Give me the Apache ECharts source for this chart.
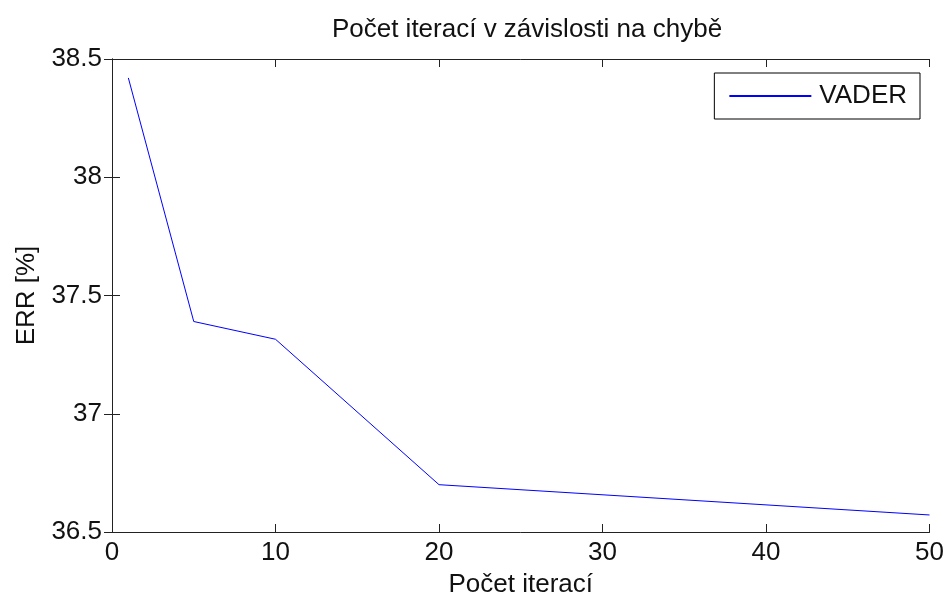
<!DOCTYPE html>
<html>
<head>
<meta charset="utf-8">
<title>Počet iterací v závislosti na chybě</title>
<script src="https://cdn.jsdelivr.net/npm/echarts@6/dist/echarts.min.js"></script>
<style>
    html, body { margin: 0; padding: 0; background: #fff; }
    #chart { width: 947px; height: 603px; }
</style>
</head>
<body>
<div id="chart"></div>
<script>
// data
var iterace = [1, 5, 10, 20, 50];
var err = [38.42, 37.39, 37.315, 36.70, 36.572];
var xTicks = [0, 10, 20, 30, 40, 50];
var yTicks = [36.5, 37, 37.5, 38, 38.5];

var fontName = 'Liberation Sans';
var axisColor = '#222';

function makeData() {
    var out = [];
    for (var i = 0; i < iterace.length; i++) {
        out.push([iterace[i], err[i]]);
    }
    return out;
}

function yLabel(v) {
    // same text as MATLAB: 37 not 37.0
    return String(Math.round(v * 10) / 10);
}

var myChart = echarts.init(document.getElementById('chart'));
var option = {
    backgroundColor: '#fff',
    animation: false,
    title: {
        text: 'Počet iterací v závislosti na chybě',
        left: 522,
        textAlign: 'center',
        top: 12,
        textStyle: { fontFamily: fontName, fontSize: 26, fontWeight: 'normal', color: '#111' }
    },
    legend: {
        right: 27,
        top: 73,
        data: [{ name: 'VADER', icon: 'rect' }],
        itemWidth: 82,
        itemHeight: 2,
        padding: [10, 13, 10, 15],
        borderColor: '#000',
        borderWidth: 1,
        borderRadius: 0,
        textStyle: { fontFamily: fontName, fontSize: 26, color: '#111', padding: [0, 0, 0, 3] }
    },
    grid: { left: 112, right: 15, top: 59, bottom: 68 },
    xAxis: [{
        type: 'value',
        min: xTicks[0],
        max: xTicks[xTicks.length - 1],
        interval: 10,
        name: 'Počet iterací',
        nameLocation: 'middle',
        nameGap: 40,
        nameTextStyle: { fontFamily: fontName, fontSize: 26, color: '#111' },
        axisLine: { show: true, lineStyle: { color: axisColor, width: 1 } },
        axisTick: { show: true, inside: true, length: 8, lineStyle: { color: axisColor } },
        axisLabel: { fontFamily: fontName, fontSize: 26, color: '#111', margin: 8 },
        splitLine: { show: false }
    }, {
        type: 'value',
        position: 'top',
        min: xTicks[0],
        max: xTicks[xTicks.length - 1],
        interval: 10,
        axisLine: { show: true, lineStyle: { color: axisColor, width: 1 } },
        axisTick: { show: true, inside: true, length: 8, lineStyle: { color: axisColor } },
        axisLabel: { show: false },
        splitLine: { show: false }
    }],
    yAxis: [{
        type: 'value',
        min: yTicks[0],
        max: yTicks[yTicks.length - 1],
        interval: 0.5,
        name: 'ERR [%]',
        nameLocation: 'middle',
        nameGap: 72,
        nameTextStyle: { fontFamily: fontName, fontSize: 26, color: '#111' },
        axisLine: { show: true, lineStyle: { color: axisColor, width: 1 } },
        axisTick: { show: true, inside: true, length: 8, lineStyle: { color: axisColor } },
        axisLabel: { fontFamily: fontName, fontSize: 26, color: '#111', margin: 10, formatter: yLabel },
        splitLine: { show: false }
    }, {
        type: 'value',
        position: 'right',
        min: yTicks[0],
        max: yTicks[yTicks.length - 1],
        interval: 0.5,
        axisLine: { show: true, lineStyle: { color: axisColor, width: 1 } },
        axisTick: { show: true, inside: true, length: 8, lineStyle: { color: axisColor } },
        axisLabel: { show: false },
        splitLine: { show: false }
    }],
    series: [{
        name: 'VADER',
        type: 'line',
        data: makeData(),
        showSymbol: false,
        symbol: 'none',
        lineStyle: { color: '#0000ff', width: 1 },
        itemStyle: { color: '#0000ff' }
    }]
};
myChart.setOption(option);
</script>
</body>
</html>
